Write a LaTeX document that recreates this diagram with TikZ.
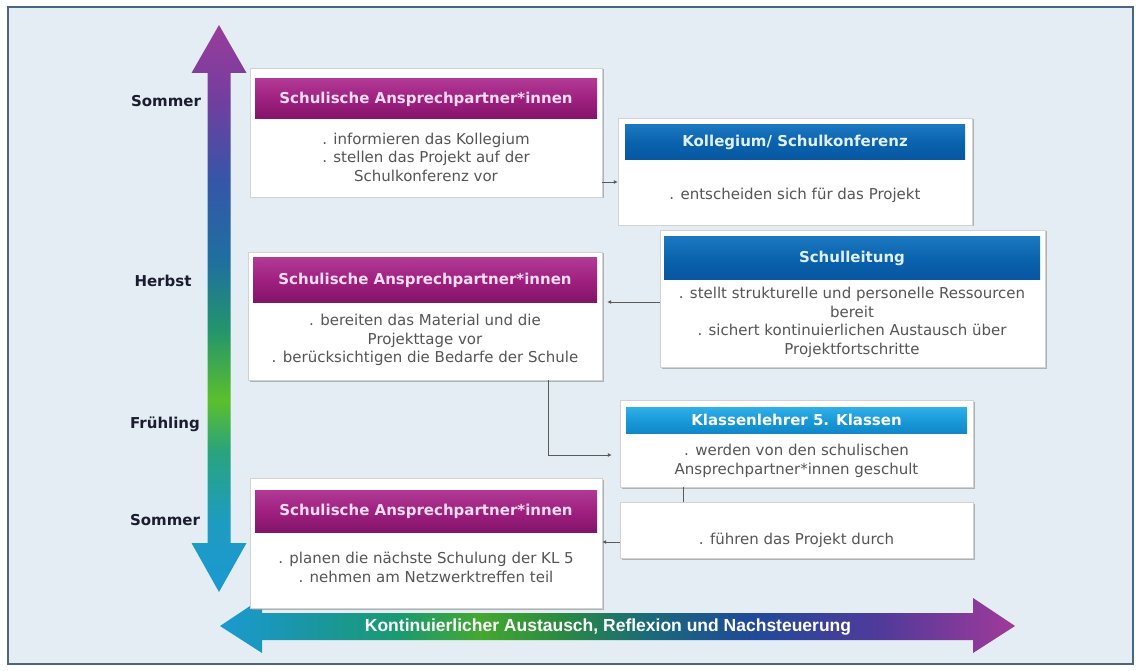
\documentclass[tikz,border=0pt]{standalone}
\usepackage{fontspec}
\setmainfont{DejaVu Sans}
\newfontfamily\bandfont{Liberation Sans}
\usepackage{xcolor}
\usepackage{tikz}
\usetikzlibrary{arrows.meta,positioning,calc,shadows}

\definecolor{bgblue}{HTML}{E4EDF3}
\definecolor{framecol}{HTML}{4C6682}
\definecolor{bodygray}{HTML}{555555}
\definecolor{linegray}{HTML}{5A5A5A}
\definecolor{seasoncol}{HTML}{1C1C30}
% header colours
\definecolor{magtop}{HTML}{B03A95}
\definecolor{magmid}{HTML}{A0207F}
\definecolor{magbot}{HTML}{82146A}
\definecolor{magtext}{HTML}{F6DEF0}
% season bar colours, top to bottom
\definecolor{vtop}{HTML}{9A3C9C}
\definecolor{vpurple}{HTML}{723E9E}
\definecolor{vblue}{HTML}{3556A8}
\definecolor{vteal}{HTML}{1F6FA0}
\definecolor{vtealgreen}{HTML}{23956C}
\definecolor{vgreen}{HTML}{5CBF2C}
\definecolor{vtealb}{HTML}{2AA47C}
\definecolor{vcyan}{HTML}{1D9CC0}
\definecolor{vbot}{HTML}{1C98D2}
% band colours, left to right
\definecolor{hcyan}{HTML}{1A9AD2}
\definecolor{hteal}{HTML}{1A96A8}
\definecolor{htealgreen}{HTML}{1A9A70}
\definecolor{hgreen}{HTML}{44A830}
\definecolor{hdkgreen}{HTML}{2A8A40}
\definecolor{hdkteal}{HTML}{1A6A7A}
\definecolor{hblue}{HTML}{1F4A9A}
\definecolor{hindigo}{HTML}{503A9A}
\definecolor{hmag}{HTML}{A03A9A}

\pgfdeclareverticalshading{seasonbar}{100bp}{color(0bp)=(vbot); color(25bp)=(vbot);
  color(31.3bp)=(vcyan); color(37.5bp)=(vtealb); color(41.9bp)=(vgreen);
  color(48.1bp)=(vtealgreen); color(54.3bp)=(vteal); color(61.3bp)=(vblue);
  color(68.4bp)=(vpurple); color(75bp)=(vtop); color(100bp)=(vtop)}
\pgfdeclarehorizontalshading{exchangebar}{100bp}{color(0bp)=(hcyan); color(25bp)=(hcyan);
  color(30bp)=(hteal); color(36.3bp)=(htealgreen); color(41.4bp)=(hgreen);
  color(46.4bp)=(hdkgreen); color(52bp)=(hdkteal); color(58.3bp)=(hblue);
  color(66.5bp)=(hindigo); color(75bp)=(hmag); color(100bp)=(hmag)}

\begin{document}
\begin{tikzpicture}[x=1pt, y=-1pt,
            card/.style={draw=gray!35, fill=white, inner sep=0pt,
                 drop shadow={shadow xshift=1.5pt, shadow yshift=-1.5pt, fill=gray!80, opacity=.7}},
            pinkhead/.style={draw=none, top color=magtop, bottom color=magbot, middle color=magmid,
                 text=magtext, inner sep=0pt, font=\bfseries\fontsize{15}{17}\selectfont},
            bluehead/.style={draw=none, top color={rgb,255:red,26;green,120;blue,192}, bottom color={rgb,255:red,7;green,86;blue,160},
                 middle color={rgb,255:red,10;green,98;blue,173}, text={rgb,255:red,224;green,240;blue,251}, inner sep=0pt,
                 font=\bfseries\fontsize{15}{17}\selectfont},
            lightbluehead/.style={draw=none, top color={rgb,255:red,48;green,176;blue,232}, bottom color={rgb,255:red,16;green,136;blue,200},
                 middle color={rgb,255:red,26;green,154;blue,216}, text=white, inner sep=0pt,
                 font=\bfseries\fontsize{15}{17}\selectfont},
            body/.style={align=center, text=bodygray, inner sep=0pt, font=\fontsize{15}{18.5}\selectfont},
            season/.style={text=seasoncol, font=\bfseries\fontsize{15}{17}\selectfont},
            link/.style={draw=linegray, line width=0.9pt, -{Latex[length=4pt,width=4pt]}},
            plain/.style={draw=linegray, line width=0.9pt}
            ]
            \useasboundingbox (0,0) rectangle (1141,671);
            \fill[white] (0,0) rectangle (1141,671);
            \draw[framecol, line width=1.3pt, fill=bgblue] (8,7) rectangle (1133,664);

            % Time bar and exchange bar
            \shade[shading=seasonbar] (219,25) -- (246.5,73) -- (230.5,73) -- (230.5,543) -- (246.5,543)
                 -- (219,592) -- (191.5,543) -- (207.5,543) -- (207.5,73) -- (191.5,73) -- cycle;
            \shade[shading=exchangebar] (220,626) -- (262,598) -- (262,613) -- (973,613) -- (973,598)
                 -- (1015,626) -- (973,653) -- (973,640) -- (262,640) -- (262,653) -- cycle;
            \node[text=white, font=\bandfont\bfseries\fontsize{17.5}{19}\selectfont] (band) at (608,627)
                 {Kontinuierlicher Austausch, Reflexion und Nachsteuerung};

            % Seasons
            \node[season] (som1) at (166,101) {Sommer};
            \node[season] (herb) at (163,281) {Herbst};
            \node[season] (fru) at (165,424) {Frühling};
            \node[season] (som2) at (165,520) {Sommer};

            % Boxes with manual coordinates
            \node[card, minimum width=352, minimum height=129] (sap1) at (426,132.5) {};
            \node[pinkhead, minimum width=342, minimum height=40] (sap1h) at (426,99) {Schulische  Ansprechpartner*innen};
            \node[body] (sap1t) at (426,157) {. informieren das Kollegium\\. stellen das Projekt auf der\\Schulkonferenz vor};

            \node[card, minimum width=354, minimum height=107] (koll) at (795,171.5) {};
            \node[bluehead, minimum width=340, minimum height=35] (kollh) at (795,142.5) {Kollegium/  Schulkonferenz};
            \node[body] (kollt) at (795,195) {. entscheiden sich für das Projekt};

            \node[card, minimum width=385, minimum height=137] (leit) at (852.5,298.5) {};
            \node[bluehead, minimum width=376, minimum height=43] (leith) at (852,258.5) {Schulleitung};
            \node[body] (leitt) at (852,322.5) {. stellt strukturelle und personelle Ressourcen\\bereit\\. sichert kontinuierlichen Austausch über\\Projektfortschritte};

            \node[card, minimum width=354, minimum height=128] (sap2) at (425,316) {};
            \node[pinkhead, minimum width=344, minimum height=44] (sap2h) at (425,280) {Schulische  Ansprechpartner*innen};
            \node[body] (sap2t) at (425,340) {. bereiten das Material und die\\Projekttage vor\\. berücksichtigen die Bedarfe der Schule};

            \node[card, minimum width=353, minimum height=87] (klass) at (796.5,443.5) {};
            \node[lightbluehead, minimum width=341, minimum height=26] (klassh) at (796.5,420) {Klassenlehrer  5. Klassen};
            \node[body] (klasst) at (796.5,461) {. werden von den schulischen\\Ansprechpartner*innen geschult};

            \node[card, minimum width=353, minimum height=56] (fuehr) at (796.5,530) {};
            \node[body] (fuehrt) at (796.5,540) {. führen das Projekt durch};

            \node[card, minimum width=352, minimum height=130] (sap3) at (426,543) {};
            \node[pinkhead, minimum width=342, minimum height=42] (sap3h) at (426,511) {Schulische  Ansprechpartner*innen};
            \node[body] (sap3t) at (426,567.5) {. planen die nächste Schulung der KL 5\\. nehmen am Netzwerktreffen teil};

            % Arrows
            \coordinate (kollin) at ([yshift=-10.5pt]koll.west);
            \coordinate (leitout) at ([yshift=-3.5pt]leit.west);
            \coordinate (klassin) at ([yshift=-11.5pt]klass.west);
            \coordinate (fuehrout) at ([yshift=-12pt]fuehr.west);
            \draw[link] (sap1.east |- kollin) -- (kollin);
            \draw[link, shorten >=5pt] (leitout) -- (sap2.east |- leitout);
            \draw[link, shorten >=8pt] ([xshift=123pt]sap2.south) |- (klassin);
            \draw[plain] ([xshift=-113.5pt]klass.south) -- ([xshift=-113.5pt]fuehr.north);
            \draw[link] (fuehrout) -- (sap3.east |- fuehrout);
        \end{tikzpicture}
\end{document}
